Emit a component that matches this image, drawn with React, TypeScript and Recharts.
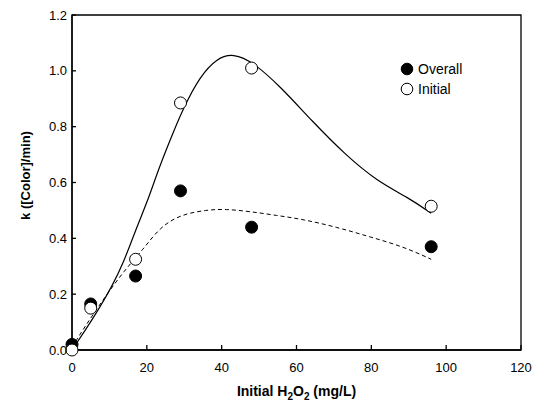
import { ComposedChart, Line, Scatter, XAxis, YAxis, ReferenceArea, Legend } from 'recharts';

// measured points
const h2o2 = [0, 5, 17, 29, 48, 96];
const overallK = [0.02, 0.165, 0.265, 0.57, 0.44, 0.37];
const initialK = [0.0, 0.15, 0.325, 0.885, 1.01, 0.515];

// fitted curves
const initialFitX = [0, 3.5, 7, 10.6, 13.7, 17, 20.4, 23, 26, 29.8, 34.2, 38.7, 43.1, 48.5, 55.6, 64.5, 73, 81.5, 90, 96];
const initialFitY = [0.0, 0.07, 0.143, 0.226, 0.31, 0.43, 0.54, 0.643, 0.745, 0.869, 0.98, 1.045, 1.063, 1.03, 0.945, 0.815, 0.7, 0.605, 0.545, 0.49];
const overallFitX = [0, 3.5, 8.8, 14, 19, 23.5, 29, 36, 41, 47.6, 54.7, 61.8, 70.8, 79.7, 88.6, 96];
const overallFitY = [0.01, 0.085, 0.19, 0.285, 0.36, 0.44, 0.485, 0.502, 0.505, 0.496, 0.482, 0.468, 0.44, 0.405, 0.37, 0.325];

const xTicks = [0, 20, 40, 60, 80, 100, 120];
const yTicks = [0, 0.2, 0.4, 0.6, 0.8, 1.0, 1.2];

const legendOrder = ['Overall', 'Initial'];

const font = "Arial, 'Liberation Sans', sans-serif";

const toPoints = (xs: number[], ys: number[]) => xs.map((x, i) => ({ x, y: ys[i] }));

const overallPts = toPoints(h2o2, overallK);
const initialPts = toPoints(h2o2, initialK);
const initialFit = toPoints(initialFitX, initialFitY);
const overallFit = toPoints(overallFitX, overallFitY);

const markerFill: Record<string, string> = { Overall: '#000', Initial: '#fff' };

const renderLegend = (props: any) => {
  const items = (props.payload || [])
    .filter((p: any) => legendOrder.includes(p.value))
    .sort((a: any, b: any) => legendOrder.indexOf(a.value) - legendOrder.indexOf(b.value));
  return (
    <div style={{ fontFamily: font, fontSize: 14, color: '#000' }}>
      {items.map((p: any) => (
        <div key={p.value} style={{ display: 'flex', alignItems: 'center', height: 20 }}>
          <svg width={14} height={14} style={{ marginRight: 4 }}>
            <circle cx={7} cy={7} r={5.8} fill={markerFill[p.value]} stroke="#000" strokeWidth={1} />
          </svg>
          <span>{p.value}</span>
        </div>
      ))}
    </div>
  );
};

const xTitle = ({ viewBox }: any) => (
  <text
    x={viewBox.x + viewBox.width / 2}
    y={viewBox.y + 46}
    textAnchor="middle"
    fontFamily={font}
    fontSize={14}
    fontWeight="bold"
    fill="#000"
  >
    Initial H<tspan fontSize={10} dy={4}>2</tspan>
    <tspan dy={-4}>O</tspan>
    <tspan fontSize={10} dy={4}>2</tspan>
    <tspan dy={-4}> (mg/L)</tspan>
  </text>
);

const yTitle = ({ viewBox }: any) => {
  const cx = viewBox.x + 30;
  const cy = viewBox.y + viewBox.height / 2 - 7;
  return (
    <text
      x={cx}
      y={cy}
      transform={`rotate(-90, ${cx}, ${cy})`}
      textAnchor="middle"
      fontFamily={font}
      fontSize={13}
      fontWeight="bold"
      fill="#000"
    >
      k ([Color]/min)
    </text>
  );
};

const dot = (fill: string) => (props: any) => (
  <circle cx={props.cx} cy={props.cy} r={6} fill={fill} stroke="#000" strokeWidth={1} />
);

export default function App() {
  return (
    <div style={{ position: 'absolute', left: 0, top: 0 }}>
      <ComposedChart width={538} height={404} margin={{ top: 15, right: 17, bottom: 0, left: 0 }}>
        <XAxis
          type="number"
          dataKey="x"
          domain={[0, 120]}
          ticks={xTicks}
          height={54}
          tickSize={-5}
          tickMargin={18}
          stroke="#000"
          strokeWidth={1.3}
          tick={{ fill: '#000', fontSize: 13, fontFamily: font }}
          label={{ content: xTitle }}
        />
        <YAxis
          type="number"
          dataKey="y"
          domain={[0, 1.2]}
          ticks={yTicks}
          width={72}
          tickSize={-4}
          tickMargin={9}
          stroke="#000"
          strokeWidth={1.3}
          tickFormatter={(v: number) => v.toFixed(1)}
          tick={{ fill: '#000', fontSize: 13, fontFamily: font }}
          label={{ content: yTitle }}
        />
        <ReferenceArea x1={0} x2={120} y1={0} y2={1.2} fill="none" stroke="#000" strokeWidth={1.3} />
        <Line
          data={initialFit}
          dataKey="y"
          type="basis"
          stroke="#000"
          strokeWidth={1.2}
          dot={false}
          legendType="none"
          isAnimationActive={false}
        />
        <Line
          data={overallFit}
          dataKey="y"
          type="basis"
          stroke="#000"
          strokeWidth={1}
          strokeDasharray="4 3"
          dot={false}
          legendType="none"
          isAnimationActive={false}
        />
        <Scatter name="Overall" data={overallPts} dataKey="y" shape={dot('#000')} isAnimationActive={false} />
        <Scatter name="Initial" data={initialPts} dataKey="y" shape={dot('#fff')} isAnimationActive={false} />
        <Legend
          layout="horizontal"
          align="center"
          verticalAlign="middle"
          content={renderLegend}
          wrapperStyle={{ left: 400, top: 59, width: 'auto', height: 'auto' }}
        />
      </ComposedChart>
    </div>
  );
}
